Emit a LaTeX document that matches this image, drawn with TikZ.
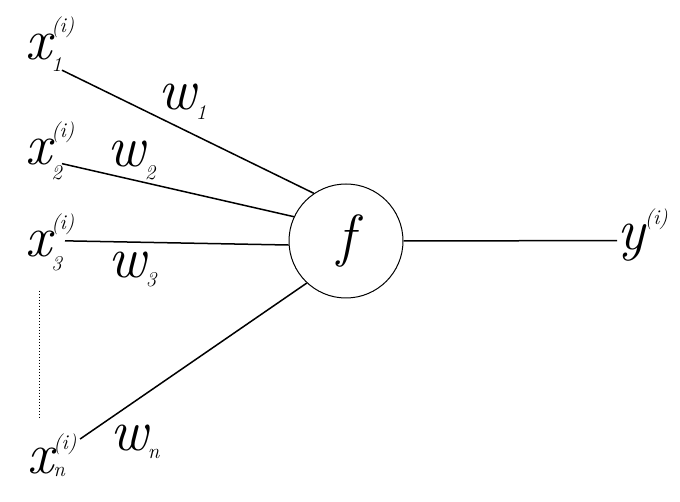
\documentclass[tikz,border=0pt]{standalone}
\usepackage{tikz}

\newcommand\bigit{\fontsize{58}{58}\selectfont\itshape}
\newcommand\smallit{\fontsize{21}{21}\selectfont\itshape}
% letter with stacked (i) and index: #1 letter, #2 index, #3 raise, #4 lower
\newcommand\invar[4]{#1\rlap{\raisebox{#3}{\smallit(i)}}\raisebox{-#4}{\smallit#2}}
\newcommand\wgt[2]{w\raisebox{-#2}{\smallit#1}}

\begin{document}
\begin{tikzpicture}[x=1pt, y=-1pt,
    var/.style={inner sep=0pt, anchor=base west, font=\bigit},
    neuron/.style={draw, circle, line width=1pt, minimum size=114pt, inner sep=0pt, font=\bigit},
    conn/.style={line width=1.5pt},
    dots/.style={line width=1pt, dash pattern=on 1pt off 2pt}]
  \useasboundingbox (0,0) rectangle (680,502);
  % inputs
  \node[var] (x1) at (25,60)  {\invar{x}{1}{27pt}{12pt}};
  \node[var] (x2) at (25,165) {\invar{x}{2}{27pt}{15pt}};
  \node[var] (x3) at (25,257) {\invar{x}{3}{27pt}{14pt}};
  \node[var] (xn) at (27,473) {\invar{x}{n}{24pt}{3pt}};
  % neuron and output
  \node[neuron] (f) at (346,241) {f};
  \node[var] (y) at (617,250) {y\raisebox{25pt}{\smallit(i)}};
  % weights
  \node[var] (w1) at (158,110) {\wgt{1}{10pt}};
  \node[var] (w2) at (107,167) {\wgt{2}{13pt}};
  \node[var] (w3) at (108,278) {\wgt{3}{9pt}};
  \node[var] (wn) at (110,450) {\wgt{n}{8pt}};
  % connections
  \draw[conn] ([yshift=2pt]x1.south east) -- (f.124);
  \draw[conn] ([yshift=17pt]x2.south east) -- (f.155);
  \draw[conn] ([xshift=3pt,yshift=2pt]x3.east) -- (f.184);
  \draw[conn] ([xshift=15pt,yshift=-6pt]xn.north east) -- (f.227);
  \draw[conn] (f.east) -- ([yshift=-5pt]y.west);
  \draw[dots] ([xshift=14pt,yshift=-19pt]x3.south west) -- ([xshift=12pt,yshift=16pt]xn.north west);
\end{tikzpicture}
\end{document}
